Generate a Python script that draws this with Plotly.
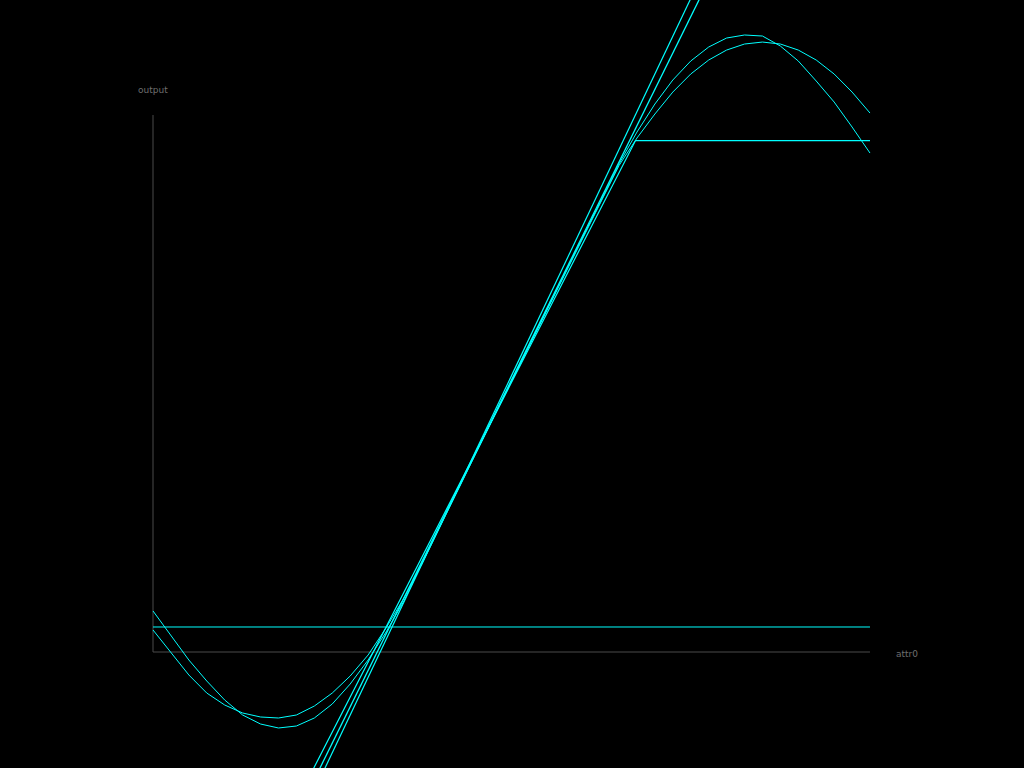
import plotly.graph_objects as go

# ---- data ----
grid_x = [0.000, 0.025, 0.050, 0.075, 0.100, 0.125, 0.150, 0.175, 0.200, 0.225,
          0.250, 0.275, 0.300, 0.325, 0.350, 0.375, 0.400, 0.425, 0.450, 0.475,
          0.500, 0.525, 0.550, 0.575, 0.600, 0.625, 0.650, 0.675, 0.700, 0.725,
          0.750, 0.775, 0.800, 0.825, 0.850, 0.875, 0.900, 0.925, 0.950, 0.975, 1.000]

poly_a = [0.0764, 0.0298, -0.0149, -0.0540, -0.0894, -0.1173, -0.1341, -0.1415, -0.1378, -0.1229,
          -0.0968, -0.0596, -0.0149, 0.0372, 0.0950, 0.1657, 0.2346, 0.3017, 0.3696, 0.4371,
          0.5045, 0.5717, 0.6395, 0.7069, 0.7741, 0.8415, 0.9091, 0.9683, 1.0205, 1.0652,
          1.1006, 1.1266, 1.1434, 1.1490, 1.1471, 1.1285, 1.1006, 1.0633, 1.0242, 0.9777, 0.9292]

poly_b = [0.0410, -0.0019, -0.0428, -0.0764, -0.0987, -0.1136, -0.1210, -0.1229, -0.1173, -0.1006,
          -0.0764, -0.0447, -0.0056, 0.0447, 0.1006, 0.1640, 0.2330, 0.3005, 0.3688, 0.4365,
          0.5040, 0.5712, 0.6387, 0.7058, 0.7727, 0.8395, 0.9060, 0.9572, 1.0019, 1.0428,
          1.0764, 1.1024, 1.1210, 1.1322, 1.1359, 1.1322, 1.1210, 1.1024, 1.0764, 1.0428, 1.0037]

ends_x = [0.0, 1.0]
const_y = [0.0466, 0.0466]
linear_1 = [-0.8461, 1.8595]
linear_2 = [-0.8900, 1.9193]

clip_x = [0.0, 0.6730, 1.0]
clip_y = [-0.8000, 0.9525, 0.9525]

x_label = "attr0"
y_label = "output"

CYAN = "#00ffff"
AXIS = "#4a4a4a"
TEXT = "#6e6e6e"

fig = go.Figure()

def add_line(xs, ys, width=1.0):
    fig.add_trace(go.Scatter(x=xs, y=ys, mode="lines",
                             line=dict(color=CYAN, width=width),
                             hoverinfo="skip", showlegend=False))

add_line(ends_x, const_y)
add_line(ends_x, linear_1, 1.3)
add_line(ends_x, linear_2, 1.2)
add_line(clip_x, clip_y, 1.2)
add_line(grid_x, poly_a)
add_line(grid_x, poly_b)

# axis lines
fig.add_shape(type="line", x0=0, y0=0, x1=0, y1=1, xref="x", yref="y",
              line=dict(color=AXIS, width=1), layer="below")
fig.add_shape(type="line", x0=0, y0=0, x1=1, y1=0, xref="x", yref="y",
              line=dict(color=AXIS, width=1), layer="below")

fig.add_annotation(x=0, y=1.0466, xref="x", yref="y", text=y_label, showarrow=False,
                   xanchor="center", yanchor="middle",
                   font=dict(family="DejaVu Sans", size=9, color=TEXT))
fig.add_annotation(x=1.0335, y=-0.004, xref="x", yref="y", text=x_label, showarrow=False,
                   xanchor="left", yanchor="middle",
                   font=dict(family="DejaVu Sans", size=9, color=TEXT))

fig.update_layout(
    width=1024, height=768,
    margin=dict(l=0, r=0, t=0, b=0),
    paper_bgcolor="black", plot_bgcolor="black",
    xaxis=dict(range=[-0.2134, 1.2148], visible=False, fixedrange=True),
    yaxis=dict(range=[-0.2160, 1.2142], visible=False, fixedrange=True),
)

fig.write_html("out.html", config={"displayModeBar": False},
               post_script="document.body.style.margin='0';document.body.style.overflow='hidden';document.body.style.background='black';")
